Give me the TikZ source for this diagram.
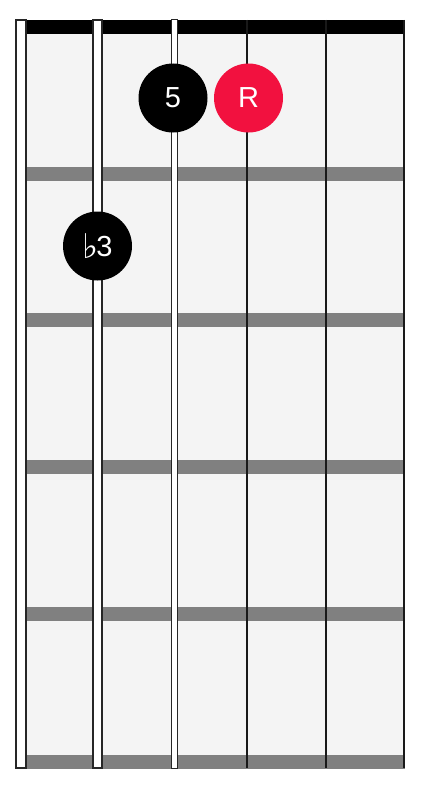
\documentclass[tikz,border=0pt]{standalone}
\usepackage{fontspec}
\setmainfont{Liberation Sans}
\newfontfamily\symfont{DejaVu Sans}
\definecolor{boardgray}{RGB}{244,244,244}
\definecolor{fretgray}{RGB}{128,128,128}
\definecolor{rootred}{RGB}{242,17,63}
\begin{document}
\begin{tikzpicture}[x=1pt,y=-1pt,
  dotnote/.style={circle,minimum size=69pt,inner sep=0pt,text=white,font=\fontsize{29}{29}\selectfont},
  fretbar/.style={fill=fretgray,draw=none},
  thickstring/.style={fill=white,draw=black!85,line width=1.1pt},
  thinstring/.style={draw=black!90,line width=2.6pt}]
\useasboundingbox (0,0) rectangle (424,792);
% board
\fill[boardgray] (25,34) rectangle (405,762);
% nut
\fill[black] (25,20) rectangle (405,34);
% frets
\foreach \y in {167,313,460,607,755} {
  \path[fretbar] (25,\y) rectangle (405,\y+14);
}
% strings
\path[thickstring] (16,20) rectangle (26,768);
\path[thickstring] (93,20) rectangle (102,768);
\path[thickstring,line width=1pt] (171,20) rectangle (177,768);
\draw[thinstring] (247,20) -- (247,768);
\draw[thinstring] (326,20) -- (326,768);
\draw[thinstring] (404,20) -- (404,768);
% notes
\node[dotnote,fill=black] (five) at (173,98) {5};
\node[dotnote,fill=rootred] (root) at (248.5,98) {R};
\node[dotnote,fill=black] (flat3) at (97.5,246) {\raisebox{-1.5pt}{\symfont\fontsize{34}{34}\selectfont ♭}\kern-2pt3};
\end{tikzpicture}
\end{document}
